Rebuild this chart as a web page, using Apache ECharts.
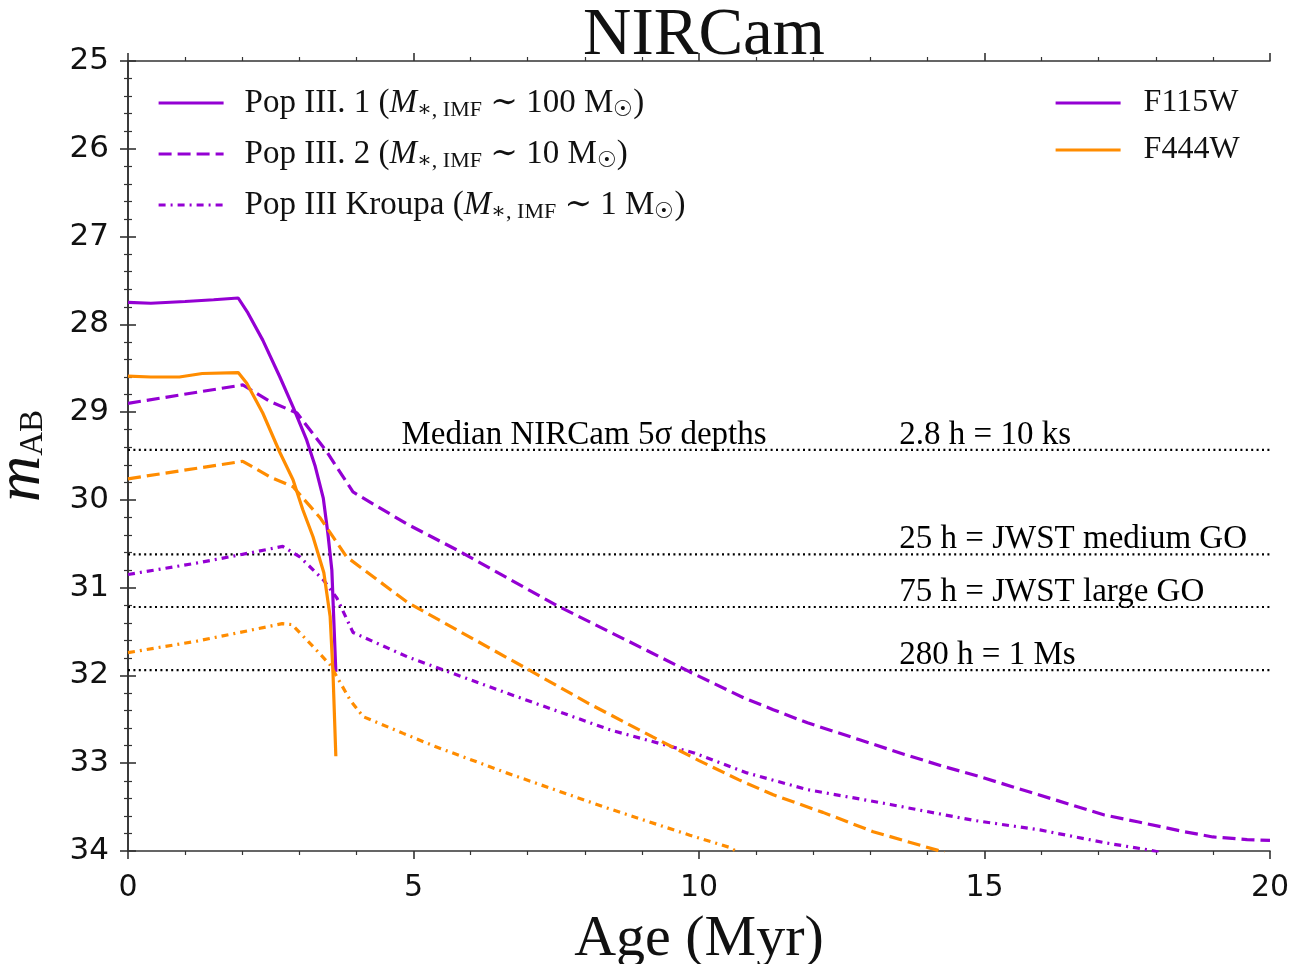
<!DOCTYPE html>
<html>
<head>
<meta charset="utf-8">
<script src="https://cdn.jsdelivr.net/npm/echarts@6/dist/echarts.min.js"></script>
<style>
  html, body { margin: 0; padding: 0; background: #fff; }
  #chart { width: 1299px; height: 964px; }
</style>
</head>
<body>
<div id="chart"></div>
<script>
// age (Myr) / m_AB
var ageP1F115 = [0, 0.4, 1.0, 1.5, 1.93, 2.10, 2.36, 2.66, 2.89, 3.13, 3.28, 3.42, 3.50, 3.57, 3.60, 3.64];
var magP1F115 = [27.75, 27.76, 27.74, 27.72, 27.70, 27.87, 28.18, 28.60, 28.94, 29.32, 29.62, 29.98, 30.38, 30.80, 31.30, 31.96];

var ageP1F444 = [0, 0.4, 0.9, 1.3, 1.93, 2.08, 2.36, 2.66, 2.89, 3.06, 3.24, 3.43, 3.54, 3.59, 3.64];
var magP1F444 = [28.59, 28.60, 28.60, 28.56, 28.55, 28.67, 29.01, 29.46, 29.77, 30.11, 30.42, 30.83, 31.33, 31.97, 32.92];

var ageP2F115 = [0, 2.01, 2.49, 2.96, 3.48, 3.94, 4.9, 5.76, 7.5, 9.84, 10.8, 11.3, 11.9, 12.8, 13.6, 14.3, 14.9, 15.5, 16.5, 17.1, 17.7, 18.5, 19.0, 19.6, 20];
var magP2F115 = [28.90, 28.69, 28.88, 29.01, 29.45, 29.91, 30.28, 30.57, 31.20, 31.96, 32.26, 32.39, 32.54, 32.73, 32.90, 33.04, 33.15, 33.27, 33.47, 33.59, 33.67, 33.78, 33.84, 33.87, 33.88];

var ageP2F444 = [0, 2.01, 2.49, 2.89, 3.36, 3.83, 4.9, 6.92, 8.04, 9.19, 10.0, 10.7, 11.3, 12.17, 13.05, 14.17, 14.3];
var magP2F444 = [29.76, 29.56, 29.74, 29.85, 30.20, 30.65, 31.17, 31.90, 32.31, 32.70, 32.97, 33.19, 33.36, 33.56, 33.78, 33.99, 34.02];

var ageKrF115 = [0, 1.2, 1.93, 2.71, 3.01, 3.42, 3.66, 3.94, 4.9, 6.63, 8.44, 9.9, 10.84, 11.89, 13.35, 14.8, 15.97, 17.14, 17.9, 18.1];
var magKrF115 = [30.85, 30.72, 30.63, 30.53, 30.65, 30.91, 31.12, 31.51, 31.79, 32.20, 32.62, 32.88, 33.11, 33.30, 33.47, 33.65, 33.76, 33.91, 33.99, 34.02];

var ageKrF444 = [0, 1.2, 1.96, 2.7, 2.87, 3.24, 3.54, 3.89, 4.12, 4.82, 5.38, 6.63, 8.39, 9.84, 10.54, 10.7];
var magKrF444 = [31.74, 31.61, 31.51, 31.41, 31.42, 31.67, 31.88, 32.28, 32.47, 32.66, 32.81, 33.11, 33.51, 33.82, 33.96, 34.02];

// median 5 sigma depths
var depthMags = [29.43, 30.62, 31.22, 31.94];
var depthLabels = ["2.8 h = 10 ks", "25 h = JWST medium GO", "75 h = JWST large GO", "280 h = 1 Ms"];
var depthLabelAge = 13.5;
var depthTitle = "Median NIRCam 5σ depths";
var depthTitleAge = 4.78;

var PURPLE = "#9400d3";
var ORANGE = "#ff8c00";
var SERIF = "'Liberation Serif', 'DejaVu Serif', serif";
var SANS = "'DejaVu Sans', sans-serif";

function zip(a, b) {
  var out = [];
  for (var i = 0; i < a.length; i++) out.push([a[i], b[i]]);
  return out;
}

var DASH = [13, 6];
var DASHDOT = [7, 5, 2, 5];
var LW = 3.2;

var legendText = {
  "Pop III.1": "{t|Pop III. 1 (}{i|M}{s|∗, IMF}{t| ∼ 100 M}{s|☉}{t|)}",
  "Pop III.2": "{t|Pop III. 2 (}{i|M}{s|∗, IMF}{t| ∼ 10 M}{s|☉}{t|)}",
  "Pop III Kroupa": "{t|Pop III Kroupa (}{i|M}{s|∗, IMF}{t| ∼ 1 M}{s|☉}{t|)}"
};

function curve(name, ages, mags, color, type) {
  return {
    name: name,
    type: "line",
    data: zip(ages, mags),
    symbol: "none",
    clip: true,
    z: 3,
    lineStyle: { color: color, width: LW, type: type },
    itemStyle: { color: color }
  };
}

var series = [
  curve("Pop III.1", ageP1F115, magP1F115, PURPLE, "solid"),
  curve("Pop III.2", ageP2F115, magP2F115, PURPLE, DASH),
  curve("Pop III Kroupa", ageKrF115, magKrF115, PURPLE, DASHDOT),
  curve("Pop III.1 F444W", ageP1F444, magP1F444, ORANGE, "solid"),
  curve("Pop III.2 F444W", ageP2F444, magP2F444, ORANGE, DASH),
  curve("Pop III Kroupa F444W", ageKrF444, magKrF444, ORANGE, DASHDOT),
  // filter legend entries only
  { name: "F115W", type: "line", data: [], symbol: "none", lineStyle: { color: PURPLE, width: LW }, itemStyle: { color: PURPLE } },
  { name: "F444W", type: "line", data: [], symbol: "none", lineStyle: { color: ORANGE, width: LW }, itemStyle: { color: ORANGE } }
];

// depth lines
depthMags.forEach(function (m, i) {
  series.push({
    name: "depth" + i,
    type: "line",
    data: [[0, m], [20, m]],
    symbol: "none",
    silent: true,
    z: 2,
    lineStyle: { color: "#000", width: 2.2, type: [2, 3.4] }
  });
});

var labelPts = depthMags.map(function (m, i) { return [depthLabelAge, m, depthLabels[i]]; });
labelPts.push([depthTitleAge, depthMags[0], depthTitle]);
series.push({
  name: "depthLabels",
  type: "scatter",
  data: labelPts,
  symbolSize: 1,
  itemStyle: { opacity: 0 },
  silent: true,
  z: 4,
  label: {
    show: true,
    position: "right",
    distance: 0,
    offset: [0, -15],
    formatter: function (p) { return p.data[2]; },
    fontFamily: SERIF,
    fontSize: 33,
    color: "#000",
    opacity: 1,
    textBorderWidth: 0
  }
});

var axisLineStyle = { color: "#333", width: 1.6 };
var minorStyle = { color: "#333", width: 1.2 };
var hiddenSymbol = { color: "rgba(0,0,0,0)", borderColor: "rgba(0,0,0,0)", borderWidth: 0 };

var myChart = echarts.init(document.getElementById("chart"));
myChart.setOption({
  animation: false,
  backgroundColor: "#fff",
  title: {
    text: "NIRCam",
    left: 699,
    textAlign: "center",
    top: -2,
    textStyle: { fontFamily: SERIF, fontSize: 67, fontWeight: "normal", color: "#111" }
  },
  grid: { left: 128, right: 29, top: 61, bottom: 113, containLabel: false, outerBoundsMode: "none" },
  legend: [
    {
      data: ["Pop III.1", "Pop III.2", "Pop III Kroupa"],
      orient: "vertical",
      left: 157,
      top: 85,
      padding: 0,
      itemWidth: 65,
      itemHeight: 14,
      itemGap: 15,
      selectedMode: false,
      itemStyle: hiddenSymbol,
      lineStyle: { width: LW },
      formatter: function (name) { return legendText[name]; },
      textStyle: {
        padding: [0, 0, 0, 16],
        rich: {
          t: { fontFamily: SERIF, fontSize: 33, color: "#111", lineHeight: 38 },
          i: { fontFamily: SERIF, fontSize: 33, fontStyle: "italic", color: "#111", lineHeight: 38 },
          s: { fontFamily: SERIF, fontSize: 22, color: "#111", padding: [14, 0, 0, 0], lineHeight: 38 }
        }
      }
    },
    {
      data: ["F115W", "F444W"],
      orient: "vertical",
      left: 1054,
      top: 87,
      padding: 0,
      itemWidth: 65,
      itemHeight: 14,
      itemGap: 15,
      selectedMode: false,
      itemStyle: hiddenSymbol,
      lineStyle: { width: LW },
      textStyle: { fontFamily: SERIF, fontSize: 32, color: "#111", padding: [0, 0, 0, 18] }
    }
  ],
  xAxis: [
    {
      type: "value",
      min: 0,
      max: 20,
      interval: 5,
      position: "bottom",
      name: "Age (Myr)",
      nameLocation: "middle",
      nameGap: 60,
      nameTextStyle: { fontFamily: SERIF, fontSize: 58, color: "#111" },
      axisLine: { show: true, lineStyle: axisLineStyle },
      axisTick: { show: true, length: 8, lineStyle: axisLineStyle },
      minorTick: { show: true, splitNumber: 5, length: 4, lineStyle: minorStyle },
      axisLabel: { fontFamily: SANS, fontSize: 30, color: "#111", margin: 22 },
      splitLine: { show: false }
    },
    {
      type: "value",
      min: 0,
      max: 20,
      interval: 5,
      position: "top",
      axisLine: { show: true, lineStyle: axisLineStyle },
      axisTick: { show: true, length: 8, lineStyle: axisLineStyle },
      minorTick: { show: true, splitNumber: 5, length: 4, lineStyle: minorStyle },
      axisLabel: { show: false },
      splitLine: { show: false }
    }
  ],
  yAxis: [
    {
      type: "value",
      inverse: true,
      min: 25,
      max: 34,
      interval: 1,
      position: "left",
      name: "{m|m}{s|AB}",
      nameLocation: "middle",
      nameGap: 74,
      nameRotate: 90,
      nameTextStyle: {
        rich: {
          m: { fontFamily: SERIF, fontSize: 64, fontStyle: "italic", color: "#111" },
          s: { fontFamily: SERIF, fontSize: 33, color: "#111", padding: [22, 0, 0, 0] }
        }
      },
      axisLine: { show: true, lineStyle: axisLineStyle },
      axisTick: { show: true, length: 8, lineStyle: axisLineStyle },
      minorTick: { show: true, splitNumber: 5, length: 4, lineStyle: minorStyle },
      axisLabel: { fontFamily: SANS, fontSize: 31, color: "#111", margin: 19 },
      splitLine: { show: false }
    },
    {
      type: "value",
      inverse: true,
      min: 25,
      max: 34,
      interval: 1,
      position: "right",
      axisLine: { show: true, lineStyle: axisLineStyle },
      axisTick: { show: true, length: 8, lineStyle: axisLineStyle },
      minorTick: { show: true, splitNumber: 5, length: 4, lineStyle: minorStyle },
      axisLabel: { show: false },
      splitLine: { show: false }
    }
  ],
  series: series
});
</script>
</body>
</html>
